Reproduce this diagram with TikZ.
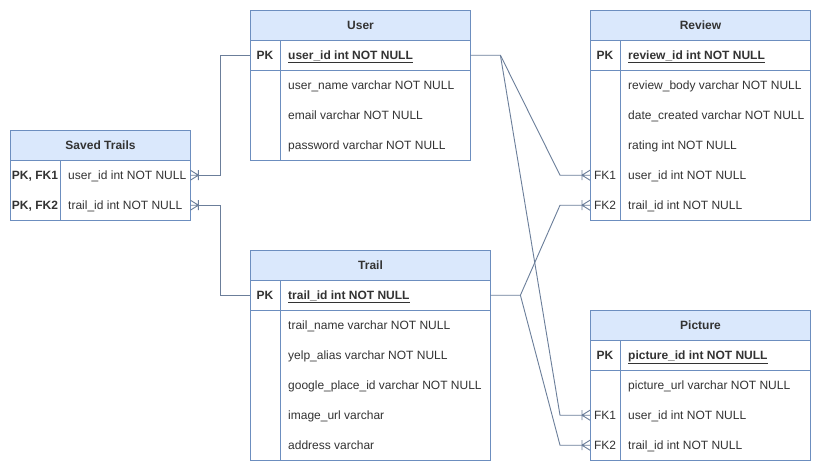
\documentclass[tikz,border=0pt]{standalone}
\usepackage{fontspec}
\setmainfont{Liberation Sans}
\usetikzlibrary{calc}
\definecolor{hdrfill}{HTML}{DAE8FC}
\definecolor{tblline}{HTML}{6C8EBF}
\definecolor{connc}{HTML}{6B7E9A}
\definecolor{txt}{HTML}{333333}
\newcommand\ertrow[7]{%
  \node[rowbox, minimum width=#4pt] (#1) at (#2,#3) {};
  \node[keytxt] (#1-k) at ($(#1.west)+(#5/2,4.3)$) {#6};
  \node[valtxt] (#1-v) at ($(#1.west)+(#5+8,4.3)$) {#7};
}
\begin{document}
\begin{tikzpicture}[x=1pt,y=-1pt,
  hdr/.style={draw=tblline, fill=hdrfill, line width=1pt, minimum height=30pt, anchor=north west, inner sep=0pt, font=\bfseries\fontsize{12}{14}\selectfont, text=txt},
  frame/.style={draw=tblline, line width=1pt, anchor=north west, inner sep=0pt, fill=white},
  rowbox/.style={anchor=north west, minimum height=30pt, inner sep=0pt},
  keytxt/.style={anchor=base, inner sep=0pt, font=\fontsize{12}{14}\selectfont, text=txt},
  valtxt/.style={anchor=base west, inner sep=0pt, font=\fontsize{12}{14}\selectfont, text=txt},
  sep/.style={draw=tblline, line width=1pt},
  conn/.style={draw=connc, line width=0.9pt},
  manyend/.pic={\draw[conn] (0,0) -- (8,0) (0,0) -- (8,-5) (0,0) -- (8,5) (0,-5) -- (0,5);}
]
\useasboundingbox (0,0) rectangle (821,471);
\fill[white] (0,0) rectangle (821,471);

% Saved Trails
\node[frame, minimum width=180pt, minimum height=90pt] (saved) at (10,130) {};
\node[hdr, minimum width=180pt] (saved-h) at (10,130) {Saved Trails};
\draw[sep] (60,160) -- (60,220);
\ertrow{st-u}{10}{160}{180}{50}{\textbf{PK, FK1}}{user\_id int NOT NULL}
\ertrow{st-t}{10}{190}{180}{50}{\textbf{PK, FK2}}{trail\_id int NOT NULL}

% User
\node[frame, minimum width=220pt, minimum height=150pt] (user) at (250,10) {};
\node[hdr, minimum width=220pt] (user-h) at (250,10) {User};
\draw[sep] (280,40) -- (280,160);
\draw[sep] (250,70) -- (470,70);
\ertrow{user-pk}{250}{40}{220}{30}{\textbf{PK}}{\underline{\textbf{user\_id int NOT NULL}}}
\ertrow{user-r1}{250}{70}{220}{30}{}{user\_name varchar NOT NULL}
\ertrow{user-r2}{250}{100}{220}{30}{}{email varchar NOT NULL}
\ertrow{user-r3}{250}{130}{220}{30}{}{password varchar NOT NULL}

% Review
\node[frame, minimum width=220pt, minimum height=210pt] (rev) at (590,10) {};
\node[hdr, minimum width=220pt] (rev-h) at (590,10) {Review};
\draw[sep] (620,40) -- (620,220);
\draw[sep] (590,70) -- (810,70);
\ertrow{rev-pk}{590}{40}{220}{30}{\textbf{PK}}{\underline{\textbf{review\_id int NOT NULL}}}
\ertrow{rev-r1}{590}{70}{220}{30}{}{review\_body varchar NOT NULL}
\ertrow{rev-r2}{590}{100}{220}{30}{}{date\_created varchar NOT NULL}
\ertrow{rev-r3}{590}{130}{220}{30}{}{rating int NOT NULL}
\ertrow{rev-u}{590}{160}{220}{30}{FK1}{user\_id int NOT NULL}
\ertrow{rev-t}{590}{190}{220}{30}{FK2}{trail\_id int NOT NULL}

% Trail
\node[frame, minimum width=240pt, minimum height=210pt] (trail) at (250,250) {};
\node[hdr, minimum width=240pt] (trail-h) at (250,250) {Trail};
\draw[sep] (280,280) -- (280,460);
\draw[sep] (250,310) -- (490,310);
\ertrow{trail-pk}{250}{280}{240}{30}{\textbf{PK}}{\underline{\textbf{trail\_id int NOT NULL}}}
\ertrow{trail-r1}{250}{310}{240}{30}{}{trail\_name varchar NOT NULL}
\ertrow{trail-r2}{250}{340}{240}{30}{}{yelp\_alias varchar NOT NULL}
\ertrow{trail-r3}{250}{370}{240}{30}{}{google\_place\_id varchar NOT NULL}
\ertrow{trail-r4}{250}{400}{240}{30}{}{image\_url varchar}
\ertrow{trail-r5}{250}{430}{240}{30}{}{address varchar}

% Picture
\node[frame, minimum width=220pt, minimum height=150pt] (pic) at (590,310) {};
\node[hdr, minimum width=220pt] (pic-h) at (590,310) {Picture};
\draw[sep] (620,340) -- (620,460);
\draw[sep] (590,370) -- (810,370);
\ertrow{pic-pk}{590}{340}{220}{30}{\textbf{PK}}{\underline{\textbf{picture\_id int NOT NULL}}}
\ertrow{pic-r1}{590}{370}{220}{30}{}{picture\_url varchar NOT NULL}
\ertrow{pic-u}{590}{400}{220}{30}{FK1}{user\_id int NOT NULL}
\ertrow{pic-t}{590}{430}{220}{30}{FK2}{trail\_id int NOT NULL}

% connectors
\draw[conn] ([xshift=8pt]st-u.east) -- ++(22,0) |- (user-pk.west);
\draw[conn] ([xshift=8pt]st-t.east) -- ++(22,0) |- (trail-pk.west);
\draw[conn] (user-pk.east) -- ++(30,0) coordinate (ubend) -- ([xshift=-30pt]rev-u.west) -- ([xshift=-8pt]rev-u.west);
\draw[conn] (ubend) -- ([xshift=-30pt]pic-u.west) -- ([xshift=-8pt]pic-u.west);
\draw[conn] (trail-pk.east) -- ++(30,0) coordinate (tbend) -- ([xshift=-30pt]rev-t.west) -- ([xshift=-8pt]rev-t.west);
\draw[conn] (tbend) -- ([xshift=-30pt]pic-t.west) -- ([xshift=-8pt]pic-t.west);

% crow's feet
\pic[rotate=180] at ([xshift=8pt]st-u.east) {manyend};
\pic[rotate=180] at ([xshift=8pt]st-t.east) {manyend};
\pic at ([xshift=-8pt]rev-u.west) {manyend};
\pic at ([xshift=-8pt]rev-t.west) {manyend};
\pic at ([xshift=-8pt]pic-u.west) {manyend};
\pic at ([xshift=-8pt]pic-t.west) {manyend};
\end{tikzpicture}
\end{document}
